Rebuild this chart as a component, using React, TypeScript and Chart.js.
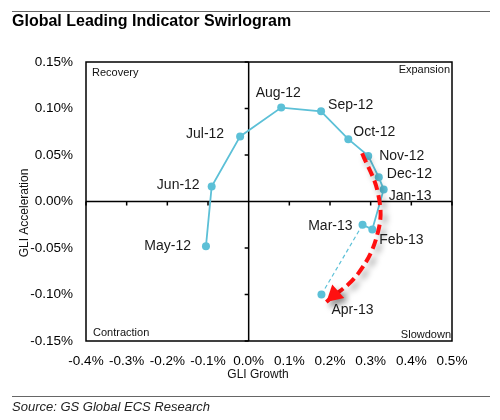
import { useEffect, useRef } from "react";
import { Chart, registerables, type Plugin } from "chart.js";

Chart.register(...registerables);

const FONT = '"Liberation Sans", Arial, sans-serif';
const BLUE = "#5cc0d7";
const RED = "#ff1010";

// monthly GLI readings, % growth vs % acceleration
const MONTHS = [
  "May-12", "Jun-12", "Jul-12", "Aug-12", "Sep-12", "Oct-12",
  "Nov-12", "Dec-12", "Jan-13", "Feb-13", "Mar-13", "Apr-13",
];
const GLI_GROWTH = [-0.105, -0.091, -0.021, 0.08, 0.178, 0.245, 0.294, 0.32, 0.332, 0.304, 0.28, 0.179];
const GLI_ACCEL = [-0.048, 0.016, 0.07, 0.101, 0.097, 0.067, 0.049, 0.026, 0.013, -0.03, -0.025, -0.1];

// hand-drawn red arrow path (same units)
const ARROW_X = [0.279, 0.318, 0.319, 0.27, 0.191];
const ARROW_Y = [0.052, 0.009, -0.031, -0.077, -0.108];

const X_TICKS = [-0.4, -0.3, -0.2, -0.1, 0, 0.1, 0.2, 0.3, 0.4, 0.5];
const Y_TICKS = [-0.15, -0.1, -0.05, 0, 0.05, 0.1, 0.15];

const QUADRANTS = ["Recovery", "Expansion", "Contraction", "Slowdown"];

// label placement next to each point: dx, dy, text align
const LABEL_POS: [number, number, CanvasTextAlign][] = [
  [-15, 0, "right"], [-12, -1, "right"], [-16, -2, "right"], [-3, -14, "center"],
  [7, -6, "left"], [5, -7, "left"], [11, 0, "left"], [8, -3, "left"],
  [5, 7, "left"], [7, 11, "left"], [-10, 1, "right"], [31, 16, "center"],
];

const swirlPlugin: Plugin<"scatter"> = {
  id: "swirl",
  beforeDatasetsDraw(chart) {
    const { ctx, chartArea: a } = chart;
    const x = chart.scales.x;
    const y = chart.scales.y;
    const x0 = x.getPixelForValue(0);
    const y0 = y.getPixelForValue(0);
    ctx.save();
    ctx.strokeStyle = "#000";
    ctx.lineWidth = 1.5;
    ctx.beginPath();
    ctx.moveTo(a.left, y0);
    ctx.lineTo(a.right, y0);
    ctx.moveTo(x0, a.top);
    ctx.lineTo(x0, a.bottom);
    X_TICKS.forEach((v) => {
      const px = x.getPixelForValue(v);
      ctx.moveTo(px, y0);
      ctx.lineTo(px, y0 + 4);
    });
    Y_TICKS.forEach((v) => {
      const py = y.getPixelForValue(v);
      ctx.moveTo(x0 - 4, py);
      ctx.lineTo(x0, py);
    });
    ctx.stroke();
    ctx.strokeRect(a.left, a.top, a.right - a.left, a.bottom - a.top);

    ctx.fillStyle = "#111";
    ctx.font = `11px ${FONT}`;
    ctx.textBaseline = "middle";
    ctx.textAlign = "left";
    ctx.fillText(QUADRANTS[0], a.left + 6, a.top + 11);
    ctx.fillText(QUADRANTS[2], a.left + 7, a.bottom - 8);
    ctx.textAlign = "right";
    ctx.fillText(QUADRANTS[1], a.right - 2, a.top + 8);
    ctx.fillText(QUADRANTS[3], a.right - 1, a.bottom - 6);
    ctx.restore();
  },
  beforeDatasetDraw(chart, args) {
    if (args.index !== 0) return;
    const ctx = chart.ctx;
    ctx.save();
    ctx.shadowColor = "rgba(0,0,0,0.4)";
    ctx.shadowBlur = 6;
    ctx.shadowOffsetX = 4;
    ctx.shadowOffsetY = 4;
  },
  afterDatasetDraw(chart, args) {
    if (args.index !== 0) return;
    const ctx = chart.ctx;
    const x = chart.scales.x;
    const y = chart.scales.y;
    const n = ARROW_X.length;
    const tx = x.getPixelForValue(ARROW_X[n - 1]);
    const ty = y.getPixelForValue(ARROW_Y[n - 1]);
    const px = x.getPixelForValue((ARROW_X[n - 2] + ARROW_X[n - 1]) / 2);
    const py = y.getPixelForValue((ARROW_Y[n - 2] + ARROW_Y[n - 1]) / 2);
    const ang = Math.atan2(ty - py, tx - px);
    const len = 16;
    const hw = 9;
    const bx = tx - Math.cos(ang) * len;
    const by = ty - Math.sin(ang) * len;
    ctx.fillStyle = RED;
    ctx.beginPath();
    ctx.moveTo(tx, ty);
    ctx.lineTo(bx + Math.sin(ang) * hw, by - Math.cos(ang) * hw);
    ctx.lineTo(bx - Math.sin(ang) * hw, by + Math.cos(ang) * hw);
    ctx.closePath();
    ctx.fill();
    ctx.restore();
  },
  afterDatasetsDraw(chart) {
    const { ctx } = chart;
    const x = chart.scales.x;
    const y = chart.scales.y;
    ctx.save();
    ctx.fillStyle = "#1a1a1a";
    ctx.font = `14px ${FONT}`;
    ctx.textBaseline = "middle";
    MONTHS.forEach((m, i) => {
      const [dx, dy, align] = LABEL_POS[i];
      ctx.textAlign = align;
      ctx.fillText(m, x.getPixelForValue(GLI_GROWTH[i]) + dx, y.getPixelForValue(GLI_ACCEL[i]) + dy);
    });
    ctx.restore();
  },
  afterDraw(chart) {
    const { ctx } = chart;
    ctx.save();
    ctx.strokeStyle = "#666";
    ctx.lineWidth = 1;
    ctx.beginPath();
    ctx.moveTo(12, 11.5);
    ctx.lineTo(490, 11.5);
    ctx.moveTo(12, 396.5);
    ctx.lineTo(490, 396.5);
    ctx.stroke();

    ctx.fillStyle = "#000";
    ctx.textBaseline = "middle";
    ctx.textAlign = "left";
    ctx.font = `bold 16px ${FONT}`;
    ctx.fillText("Global Leading Indicator Swirlogram", 12, 22);
    ctx.font = `italic 13px ${FONT}`;
    ctx.fillStyle = "#222";
    ctx.fillText("Source: GS Global ECS Research", 12, 407);

    ctx.fillStyle = "#111";
    ctx.font = `12px ${FONT}`;
    ctx.textAlign = "center";
    ctx.fillText("GLI Growth", 258, 375);
    ctx.translate(24.5, 213);
    ctx.rotate(-Math.PI / 2);
    ctx.fillText("GLI Acceleration", 0, 0);
    ctx.restore();
  },
};

export default function App() {
  const canvasRef = useRef<HTMLCanvasElement>(null);

  useEffect(() => {
    if (!canvasRef.current) return;
    const points = MONTHS.map((_, i) => ({ x: GLI_GROWTH[i], y: GLI_ACCEL[i] }));
    const arrow = ARROW_X.map((v, i) => ({ x: v, y: ARROW_Y[i] }));
    const chart = new Chart(canvasRef.current, {
      type: "scatter",
      data: {
        datasets: [
          {
            data: arrow,
            showLine: true,
            tension: 0.4,
            borderColor: RED,
            borderWidth: 4,
            borderDash: [10, 5],
            pointRadius: 0,
          },
          {
            data: points,
            showLine: true,
            borderColor: BLUE,
            borderWidth: 1.8,
            pointRadius: 4,
            pointBackgroundColor: BLUE,
            pointBorderWidth: 0,
            segment: {
              borderDash: (c) => (c.p1DataIndex === MONTHS.length - 1 ? [4, 3] : undefined),
              borderWidth: (c) => (c.p1DataIndex === MONTHS.length - 1 ? 1.2 : undefined),
            },
          },
        ],
      },
      options: {
        animation: false,
        responsive: false,
        events: [],
        layout: { padding: { left: 0, top: 62, right: 48, bottom: 0 } },
        plugins: { legend: { display: false }, tooltip: { enabled: false } },
        scales: {
          x: {
            type: "linear",
            min: -0.4,
            max: 0.5,
            grid: { display: false, drawTicks: false },
            border: { display: false },
            afterBuildTicks: (s) => {
              s.ticks = X_TICKS.map((value) => ({ value }));
            },
            afterFit: (s) => {
              s.height = 79;
            },
            ticks: {
              padding: 12,
              color: "#000",
              font: { family: FONT, size: 13.5 },
              maxRotation: 0,
              autoSkip: false,
              callback: (v) => (Math.round(Number(v) * 10) / 10).toFixed(1) + "%",
            },
          },
          y: {
            type: "linear",
            min: -0.15,
            max: 0.15,
            grid: { display: false, drawTicks: false },
            border: { display: false },
            afterBuildTicks: (s) => {
              s.ticks = Y_TICKS.map((value) => ({ value }));
            },
            afterFit: (s) => {
              s.width = 86;
            },
            ticks: {
              padding: 13,
              color: "#000",
              font: { family: FONT, size: 13.5 },
              autoSkip: false,
              callback: (v) => (Math.round(Number(v) * 100) / 100).toFixed(2) + "%",
            },
          },
        },
      },
      plugins: [swirlPlugin],
    });
    return () => chart.destroy();
  }, []);

  return (
    <div style={{ position: "absolute", left: 0, top: 0, width: 500, height: 420, background: "#fff" }}>
      <canvas ref={canvasRef} width={500} height={420} style={{ width: 500, height: 420 }} />
    </div>
  );
}
